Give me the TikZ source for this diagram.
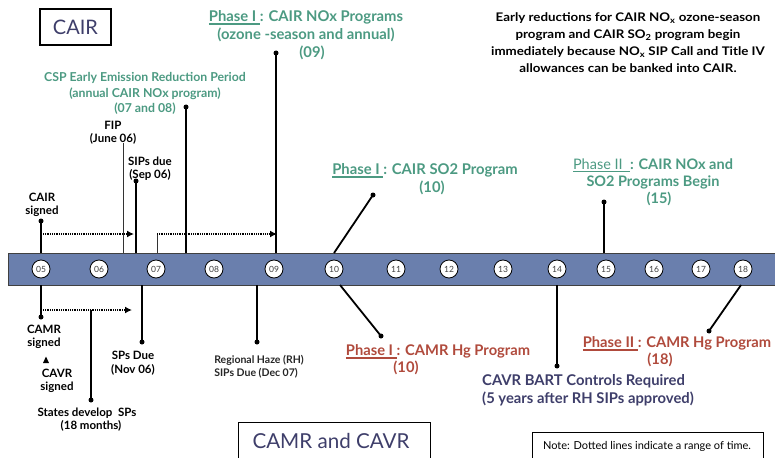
\documentclass[tikz,border=0pt]{standalone}
\usepackage{fontspec}
\setmainfont{Lato}
\newfontfamily\widefont[FakeStretch=1.12]{Lato}
\newsavebox\ulbox
\newcommand\phul[1]{\sbox\ulbox{#1}\rlap{\rule[-3.2pt]{\wd\ulbox}{1.4pt}}\usebox\ulbox}
\usetikzlibrary{arrows.meta}
\definecolor{barblue}{HTML}{6A7FAD}
\definecolor{grn}{HTML}{4C9A82}
\definecolor{hgred}{HTML}{B04A3C}
\definecolor{navy}{HTML}{3E3E6A}
\begin{document}
\begin{tikzpicture}[x=1pt,y=-1pt,
  yr/.style={circle,draw=black,line width=0.8pt,fill=white,inner sep=0pt,minimum size=18pt,font=\fontsize{8.5}{8.5}\selectfont,text=black!75},
  pin/.style={line width=1.8pt},
  thinpin/.style={line width=0.8pt,black!80},
  dotm/.style={circle,fill=black,inner sep=0pt,minimum size=5pt},
  blk/.style={font=\bfseries\fontsize{11.5}{13}\selectfont,align=center,inner sep=0pt},
  gt/.style={font=\bfseries\fontsize{14.8}{18}\selectfont,align=center,inner sep=0pt,text=grn},
  rt/.style={font=\bfseries\fontsize{14.7}{17}\selectfont,align=center,inner sep=0pt,text=hgred},
  rangearrow/.style={line width=2pt,dash pattern=on 0.9pt off 0.9pt,-{Latex[length=7pt,width=7pt]}},
  titlebox/.style={draw=black,line width=1.2pt,inner sep=0pt,text=navy,font=\fontsize{20}{20}\selectfont}
]
\useasboundingbox (0,0) rectangle (775,457);
% timeline bar
\fill[barblue] (8,253) rectangle (776,285);
\draw[black!75,line width=1pt] (776,253) -- (8,253) -- (8,285) -- (776,285);
% year circles
\foreach \y/\x in {05/41,06/99,07/156,08/214,09/274,10/334,11/396,12/449,13/503,14/557,15/606,16/654,17/701,18/743}
  \node[yr] (y\y) at (\x,269) {\y};
% boxes
\node[titlebox,minimum width=71pt,minimum height=36pt] (cair) at (75.5,27) {CAIR};
\node[titlebox,minimum width=192pt,minimum height=42pt,anchor=north west] (camr) at (238,422) {};
\node[font=\fontsize{20.6}{20}\selectfont,text=navy] (camrt) at (331,441) {CAMR and CAVR};
\node[draw=black,line width=0.8pt,anchor=north west,minimum width=231pt,minimum height=30pt] (note) at (532,432) {};
\node[font=\fontsize{11}{12}\selectfont] (notet) at (647,446) {Note: Dotted lines indicate a range of time.};
% top labels
\node[blk] (cairsig) at (42,205) {CAIR\\signed};
\node[blk] (fip) at (113,133) {FIP\\(June 06)};
\node[blk] (sips) at (150,169) {SIPs due\\(Sep 06)};
\node[gt,font=\bfseries\fontsize{12.3}{15.5}\selectfont] (csp) at (145,93.5) {CSP Early Emission Reduction Period\\(annual CAIR NOx program)\\(07 and 08)};
\node[gt] (ph1nox) at (306,35) {\phul{Phase I\ }: CAIR NOx Programs\\(ozone -season and annual)\\\hspace*{12pt}(09)};
\node[gt] (ph1so2) at (425,179) {\phul{Phase I\ }: CAIR SO2 Program\\\hspace*{14pt}(10)};
\node[gt,font=\bfseries\fontsize{14.5}{17}\selectfont] (ph2) at (653,182) {\phul{\mdseries Phase II\ \ }: CAIR NOx and\\SO2 Programs Begin\\\hspace*{12pt}(15)};
\node[font=\widefont\bfseries\fontsize{11.9}{17}\selectfont,align=center,inner sep=0pt] (early) at (628,42.5) {Early reductions for CAIR NO\textsubscript{x} ozone-season\\program and CAIR SO\textsubscript{2} program begin\\immediately because NO\textsubscript{x} SIP Call and Title IV\\allowances can be banked into CAIR.};
% bottom labels
\node[blk] (camrsig) at (44,336.5) {CAMR\\signed};
\node[blk] (cavrsig) at (57,381) {CAVR\\signed};
\node[blk] (states) at (87,419.5) {States develop \ SPs\\\hspace*{8pt}(18 months)};
\node[blk,font=\bfseries\fontsize{11.5}{14}\selectfont] (spsdue) at (133,363) {SPs Due\\(Nov 06)};
\node[font=\fontsize{10.5}{13}\selectfont\bfseries,align=left,inner sep=0pt,text=black!85] (rh) at (259,366.5) {Regional Haze (RH)\\SIPs Due (Dec 07)};
\node[rt] (ph1hg) at (438,359.5) {\phul{Phase I\ }: CAMR Hg Program\\\hspace*{-64pt}(10)};
\node[font=\bfseries\fontsize{14.8}{18}\selectfont,align=left,inner sep=0pt,text=navy,anchor=west] (bart) at (482,390) {CAVR BART Controls Required\\(5 years after RH SIPs approved)};
\node[rt] (ph2hg) at (677,351.5) {\phul{Phase II\ }: CAMR Hg Program\\\hspace*{-34pt}(18)};
% triangle
\fill (43,363) -- (49,363) -- (46,356.5) -- cycle;
% dots
\node[dotm] (d1) at (41,221) {};
\node[dotm] (d2) at (136,181) {};
\node[dotm] (d3) at (186,107) {};
\node[dotm] (d4) at (276,53) {};
\node[dotm] (d5) at (373,195) {};
\node[dotm] (d6) at (604,202) {};
\node[dotm] (d7) at (41,317) {};
\node[dotm] (d8) at (91,400) {};
\node[dotm] (d9) at (142,342) {};
\node[dotm] (d10) at (257,342) {};
\node[dotm] (d11) at (381,336) {};
\node[dotm] (d12) at (557,366) {};
\node[dotm] (d13) at (709,331) {};
% bar attachment points
\coordinate (t1) at (41,253);
\coordinate (t2) at (136,253);
\coordinate (t3) at (186,253);
\coordinate (t4) at (276,253);
\coordinate (t5) at (334,253);
\coordinate (t6) at (604,253);
\coordinate (tf) at (123,253);
\coordinate (tfip) at (123,143);
\coordinate (t7) at (157,253);
\coordinate (b7) at (41,285);
\coordinate (b9) at (142,285);
\coordinate (b10) at (257,285);
\coordinate (b11) at (340,285);
\coordinate (b12) at (557,285);
\coordinate (b13) at (741,285);
% pins
\draw[pin] (d1.center) -- (t1);
\draw[pin] (d2.center) -- (t2);
\draw[pin] (d3.center) -- (t3);
\draw[pin] (d4.center) -- (t4);
\draw[pin] (d5.center) -- (t5);
\draw[pin] (d6.center) -- (t6);
\draw[thinpin] (tfip) -- (tf);
\draw[pin] (b7) -- (d7.center);
\draw[pin] (b9) -- (d9.center);
\draw[pin] (b10) -- (d10.center);
\draw[pin] (b11) -- (d11.center);
\draw[pin] (b12) -- (d12.center);
\draw[pin] (b13) -- (d13.center);
% ranges
\coordinate (r1s) at (43,234);
\coordinate (r1e) at (134,234);
\coordinate (r2c) at (157,234);
\coordinate (r2e) at (277,234);
\coordinate (r3s) at (43,310);
\coordinate (r3e) at (132,310);
\coordinate (r3m) at (91,310);
\draw[rangearrow] (r1s) -- (r1e);
\draw[thinpin] (t7) -- (r2c);
\draw[rangearrow] (r2c) -- (r2e);
\draw[rangearrow] (r3s) -- (r3e);
\draw[pin] (r3m) -- (d8.center);
\end{tikzpicture}
\end{document}
